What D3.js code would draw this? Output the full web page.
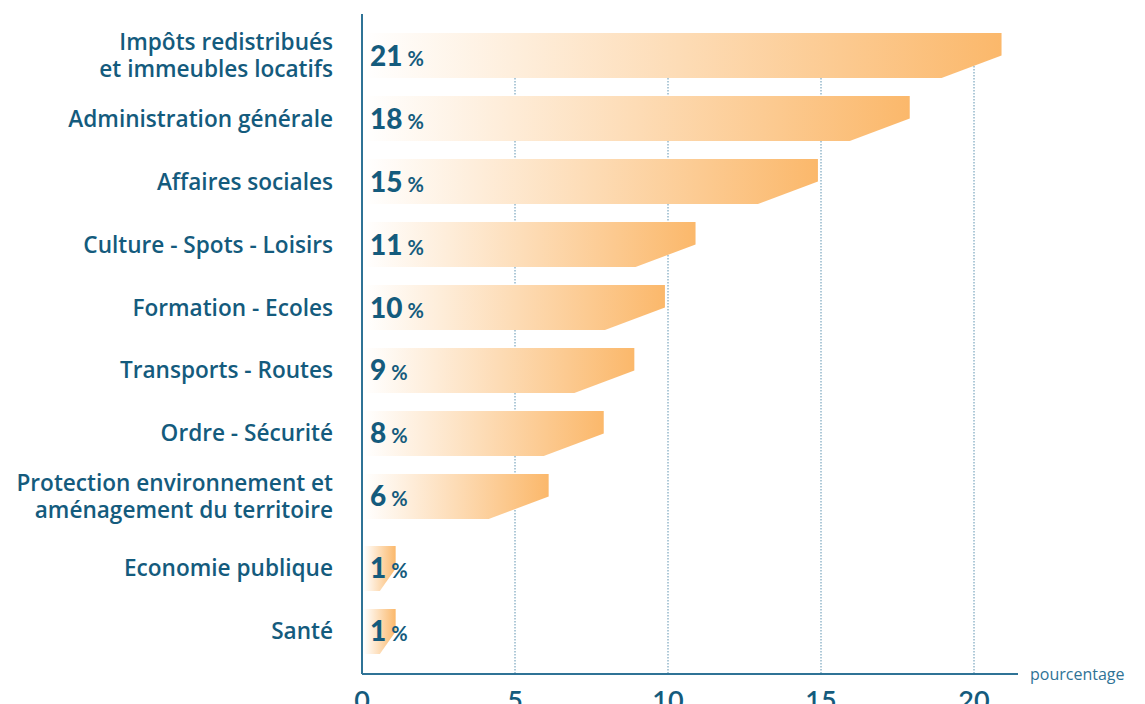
<!DOCTYPE html>
<html>
<head>
<meta charset="utf-8">
<script src="https://cdn.jsdelivr.net/npm/d3@7"></script>
<style>
  body { margin: 0; background: #fff; }
  svg { display: block; }
</style>
</head>
<body>
<div id="chart"></div>
<script>
// categories (label lines), values and the printed percentage labels
const categories = [
    ["Impôts redistribués", "et immeubles locatifs"],
    ["Administration générale"],
    ["Affaires sociales"],
    ["Culture - Spots - Loisirs"],
    ["Formation - Ecoles"],
    ["Transports - Routes"],
    ["Ordre - Sécurité"],
    ["Protection environnement et", "aménagement du territoire"],
    ["Economie publique"],
    ["Santé"]
];
const values = [20.9, 17.9, 14.9, 10.9, 9.9, 8.9, 7.9, 6.1, 1.1, 1.1];
const valueLabels = ["21", "18", "15", "11", "10", "9", "8", "6", "1", "1"];
const ticks = [0, 5, 10, 15, 20];
const axisTitle = "pourcentage";

const W = 1145, H = 704;
const blue = "#145b7d";
const data = categories.map((c, i) => ({key: c.join(" "), lines: c, value: values[i], label: valueLabels[i]}));

const svg = d3.select("#chart").append("svg")
    .attr("width", W)
    .attr("height", H);

const x = d3.scaleLinear().domain([0, 20]).range([362, 974]);
const y = d3.scaleBand()
    .domain(data.map(d => d.key))
    .range([33, 645])
    .paddingInner(0.2857)
    .paddingOuter(0);
// the last two rows sit a little lower in the original
const yPos = (d, i) => y(d.key) + (i >= 8 ? 9 : 0);
const axisY = 674;

// gradient, white -> orange along each bar
const defs = svg.append("defs");
const grad = defs.append("linearGradient").attr("id", "barGrad")
    .attr("x1", "0").attr("x2", "1").attr("y1", "0").attr("y2", "0");
grad.append("stop").attr("offset", "0%").attr("stop-color", "#ffffff");
grad.append("stop").attr("offset", "100%").attr("stop-color", "#fbb86b");

// grid lines
svg.append("g").selectAll("line")
    .data(ticks.filter(t => t > 0))
    .join("line")
    .attr("x1", d => x(d)).attr("x2", d => x(d))
    .attr("y1", 33).attr("y2", axisY)
    .attr("stroke", "#5f93b0")
    .attr("stroke-width", 1)
    .attr("stroke-dasharray", "1.5,1.5");

// bars with a cut bottom-right corner
const bh = y.bandwidth();
svg.append("g").selectAll("path")
    .data(data)
    .join("path")
    .attr("d", (d, i) => {
        const x0 = x(0) + 2, x1 = x(d.value);
        const y0 = yPos(d, i), y1 = y0 + bh;
        const cut = Math.min(60, (x1 - x0) / 2);
        return `M${x0},${y0}H${x1}V${y0 + bh / 2}L${x1 - cut},${y1}H${x0}Z`;
    })
    .attr("fill", "url(#barGrad)");

// value labels
const vl = svg.append("g").selectAll("text")
    .data(data)
    .join("text")
    .attr("x", x(0) + 8)
    .attr("y", (d, i) => yPos(d, i) + bh / 2 + 10)
    .attr("fill", blue)
    .attr("font-family", "Lato, sans-serif")
    .attr("font-weight", 900)
    .attr("font-size", 28);
vl.append("tspan").text(d => d.label);
vl.append("tspan").attr("dx", 5).attr("font-size", 20).attr("font-weight", 700).text("%");

// category labels
const lineH = 27;
const cl = svg.append("g").selectAll("text")
    .data(data)
    .join("text")
    .attr("text-anchor", "end")
    .attr("x", 333)
    .attr("y", (d, i) => yPos(d, i) + bh / 2 + 8 - (d.lines.length - 1) * lineH / 2)
    .attr("fill", blue)
    .attr("font-family", "'Open Sans', sans-serif")
    .attr("font-weight", 600)
    .attr("font-size", 22.6);
cl.selectAll("tspan")
    .data(d => d.lines)
    .join("tspan")
    .attr("x", 333)
    .attr("dy", (d, i) => i === 0 ? 0 : lineH)
    .text(d => d);

// axes
svg.append("line")
    .attr("x1", x(0)).attr("x2", x(0))
    .attr("y1", 14).attr("y2", axisY)
    .attr("stroke", "#2f7396").attr("stroke-width", 2);
svg.append("line")
    .attr("x1", x(0)).attr("x2", 1018)
    .attr("y1", axisY).attr("y2", axisY)
    .attr("stroke", "#2f7396").attr("stroke-width", 2);

svg.append("g").selectAll("text")
    .data(ticks)
    .join("text")
    .attr("x", d => x(d))
    .attr("y", 710)
    .attr("text-anchor", "middle")
    .attr("fill", blue)
    .attr("font-family", "Lato, sans-serif")
    .attr("font-weight", 600)
    .attr("font-size", 27)
    .text(d => d);

svg.append("text")
    .attr("x", 1030)
    .attr("y", axisY + 6)
    .attr("fill", "#2f7396")
    .attr("font-family", "'Open Sans', sans-serif")
    .attr("font-size", 16)
    .text(axisTitle);
</script>
</body>
</html>
